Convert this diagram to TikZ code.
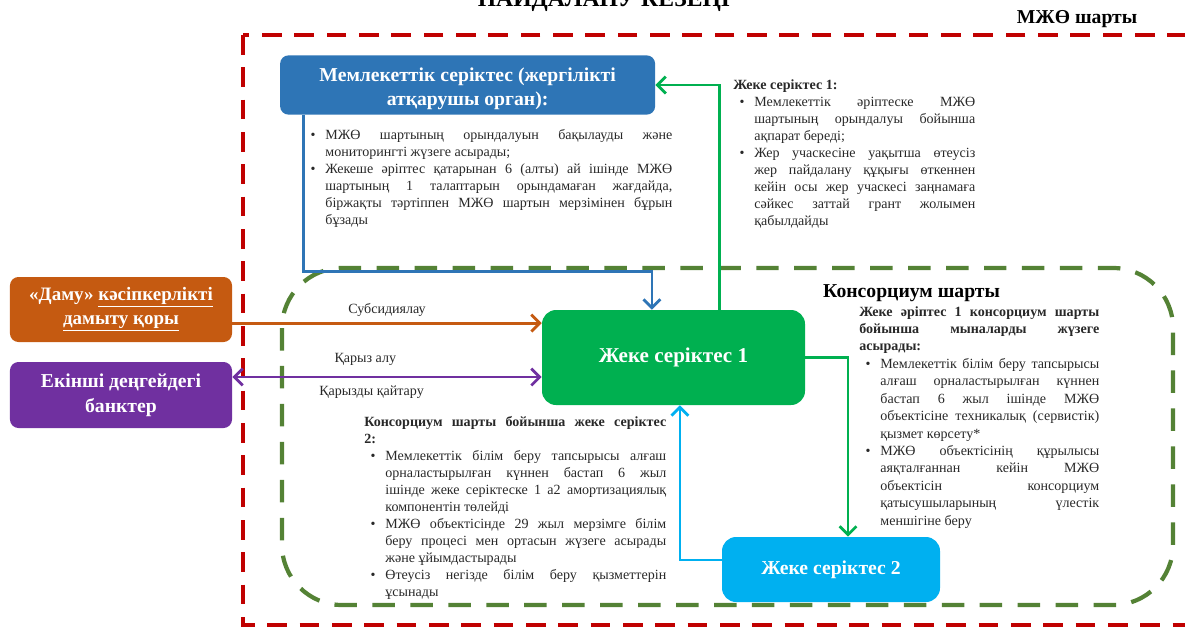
\documentclass[tikz,border=0pt]{standalone}
\usepackage{fontspec}
\setmainfont{Liberation Serif}
\usepackage{enumitem}
\usepackage{tikz}
\usetikzlibrary{arrows.meta,positioning,calc}
\definecolor{mblue}{RGB}{46,117,182}
\definecolor{mgreen}{RGB}{0,176,80}
\definecolor{mcyan}{RGB}{0,176,240}
\definecolor{morange}{RGB}{197,90,17}
\definecolor{mpurple}{RGB}{112,48,160}
\definecolor{mred}{RGB}{192,0,0}
\definecolor{molive}{RGB}{84,130,53}
\definecolor{mtext}{RGB}{40,40,40}
\newcommand{\bxfont}{\fontsize{14}{17.5}\selectfont\bfseries}
\newcommand{\ntfont}{\fontsize{10}{12.1}\selectfont}
\newenvironment{blist}{\begin{itemize}[nosep,leftmargin=15pt,labelsep=7pt,label=\textbullet]}{\end{itemize}}

\begin{document}
\begin{tikzpicture}[
    box/.style={rectangle, rounded corners=6pt, align=center, text=white, font=\bxfont},
    notes/.style={anchor=north west, inner sep=0pt, align=justify, text=mtext, font=\ntfont},
    lbl/.style={font=\ntfont, text=mtext},
    arrow/.style={-{Straight Barb[length=6pt,width=12pt]}, line width=2pt},
    dblarrow/.style={{Straight Barb[length=6pt,width=12pt]}-{Straight Barb[length=6pt,width=12pt]}, line width=2pt}
]
\useasboundingbox (0,0) rectangle (29.625,-15.725);

% frames
\draw[mred, line width=2.8pt, dash pattern=on 14pt off 9pt] (6.075,-0.875) rectangle (29.8,-15.625);
\draw[molive, line width=3pt, dash pattern=on 16pt off 11pt, rounded corners=1.5cm] (7.05,-6.7) rectangle (29.325,-15.125);
\node[font=\fontsize{16.8}{18}\selectfont\bfseries, anchor=base] (title) at (15.1,-0.15) {ПАЙДАЛАНУ КЕЗЕҢІ};
\node[font=\fontsize{14}{16}\selectfont\bfseries, anchor=base] (mzhoterm) at (26.925,-0.575) {МЖӨ шарты};
\node[font=\fontsize{14}{16}\selectfont\bfseries, anchor=base] (konsterm) at (22.79,-7.425) {Консорциум шарты};

% boxes
\node[box, fill=mblue, minimum width=9.375cm, minimum height=1.4cm] (memleket) at (11.69,-2.125) {\rule{0pt}{15pt}Мемлекеттік серіктес (жергілікті\\атқарушы орган):};
\node[box, fill=morange, font=\fontsize{13.5}{17}\selectfont\bfseries, minimum width=5.55cm, minimum height=1.625cm] (damu) at (3.025,-7.7375) {«Даму» \underline{кәсіпкерлікті}\\\underline{дамыту қоры}};
\node[box, fill=mpurple, minimum width=5.55cm, minimum height=1.65cm] (bank) at (3.025,-9.875) {Екінші деңгейдегі\\банктер};
\node[box, fill=mgreen, rounded corners=10pt, font=\fontsize{15}{17}\selectfont\bfseries, minimum width=6.575cm, minimum height=2.375cm] (jeke1) at (16.8375,-8.9375) {Жеке серіктес 1};
\node[box, fill=mcyan, rounded corners=10pt, minimum width=5.45cm, minimum height=1.625cm] (jeke2) at (20.775,-14.2375) {Жеке серіктес 2};

% notes
\node[notes, text width=9.2cm] (memnote) at (7.6,-3.05) {%
\begin{blist}
\item МЖӨ шартының орындалуын бақылауды және\linebreak мониторингті жүзеге асырады;
\item Жекеше әріптес қатарынан 6 (алты) ай ішінде МЖӨ\linebreak шартының 1 талаптарын орындамаған жағдайда,\linebreak біржақты тәртіппен МЖӨ шартын мерзімінен бұрын\linebreak бұзады
\end{blist}};
\node[notes, text width=6.05cm] (j1note) at (18.325,-1.975) {%
\textbf{Жеке серіктес 1:}
\begin{blist}
\item Мемлекеттік әріптеске МЖӨ\linebreak шартының орындалуы бойынша\linebreak ақпарат береді;
\item Жер учаскесіне уақытша өтеусіз\linebreak жер пайдалану құқығы өткеннен\linebreak кейін осы жер учаскесі заңнамаға\linebreak сәйкес заттай грант жолымен\linebreak қабылдайды
\end{blist}};
\node[notes, text width=6.0cm, font=\fontsize{10}{12.4}\selectfont] (konsnote) at (21.475,-7.65) {%
\textbf{Жеке әріптес 1 консорциум шарты\linebreak бойынша мыналарды жүзеге\linebreak асырады:}
\begin{blist}
\item Мемлекеттік білім беру тапсырысы\linebreak алғаш орналастырылған күннен\linebreak бастап 6 жыл ішінде МЖӨ\linebreak объектісіне техникалық (сервистік)\linebreak қызмет көрсету*
\item МЖӨ объектісінің құрылысы\linebreak аяқталғаннан кейін МЖӨ\linebreak объектісін консорциум\linebreak қатысушыларының үлестік\linebreak меншігіне беру
\end{blist}};
\node[notes, text width=7.55cm] (j2note) at (9.1,-10.4) {%
\textbf{Консорциум шарты бойынша жеке серіктес\linebreak 2:}
\begin{blist}
\item Мемлекеттік білім беру тапсырысы алғаш\linebreak орналастырылған күннен бастап 6 жыл\linebreak ішінде жеке серіктеске 1 а2 амортизациялық\linebreak компонентін төлейді
\item МЖӨ объектісінде 29 жыл мерзімге білім\linebreak беру процесі мен ортасын жүзеге асырады\linebreak және ұйымдастырады
\item Өтеусіз негізде білім беру қызметтерін\linebreak ұсынады
\end{blist}};

% connectors
\draw[arrow, mblue] ([xshift=0.6cm]memleket.south west) |- ([xshift=-0.54cm,yshift=0.95cm]jeke1.north) -- ([xshift=-0.54cm]jeke1.north);
\draw[arrow, mgreen] ([xshift=1.14cm]jeke1.north) |- (memleket.east);
\draw[arrow, mgreen] (jeke1.east) -| ([xshift=0.425cm]jeke2.north);
\draw[arrow, mcyan] ([yshift=0.24cm]jeke2.west) -| ([xshift=0.16cm]jeke1.south);
\draw[arrow, morange] ([yshift=-0.34cm]damu.east) coordinate (o1) -- (o1 -| jeke1.west) node[midway, above, lbl] {Субсидиялау};
\draw[dblarrow, mpurple] ([yshift=0.45cm]bank.east) coordinate (b1) -- (b1 -| jeke1.west)
    node[pos=0.43, above=4pt, lbl] {Қарыз алу}
    node[pos=0.45, below=2pt, lbl] {Қарызды қайтару};

\end{tikzpicture}
\end{document}
